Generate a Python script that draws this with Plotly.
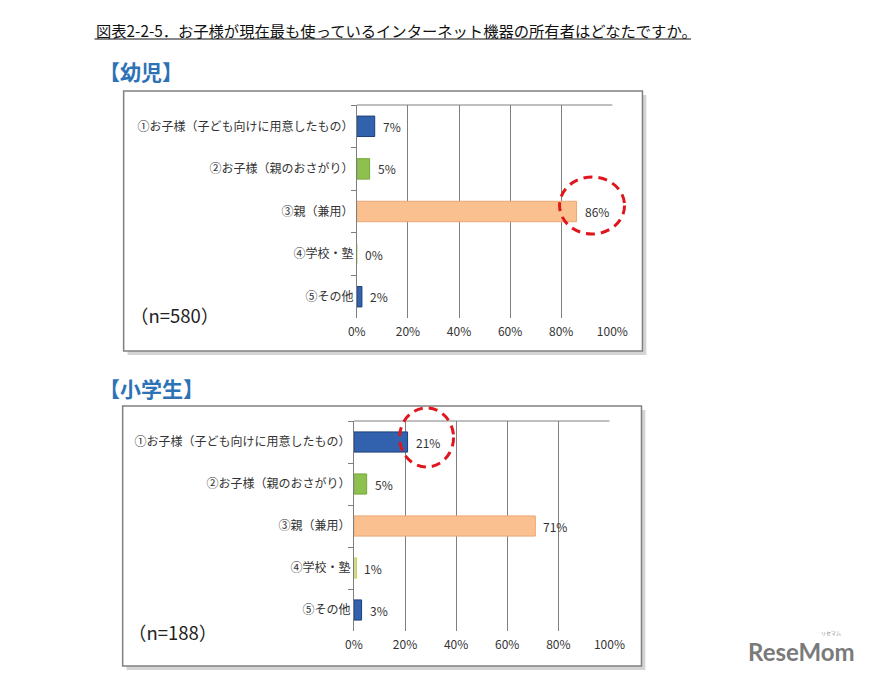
import plotly.graph_objects as go

# ---------------- data ----------------
categories = [
    "①お子様（子ども向けに用意したもの）",
    "②お子様（親のおさがり）",
    "③親（兼用）",
    "④学校・塾",
    "⑤その他",
]
infant_values = [7, 5, 86, 0, 2]
elementary_values = [21, 5, 71, 1, 3]
infant_n = "（n=580）"
elementary_n = "（n=188）"
x_tickvals = [0, 20, 40, 60, 80, 100]
x_ticktext = ["0%", "20%", "40%", "60%", "80%", "100%"]
title_text = "図表2-2-5．お子様が現在最も使っているインターネット機器の所有者はどなたですか。"
panel_titles = ["【幼児】", "【小学生】"]
highlight_index = [2, 0]  # category circled in each panel

# ---------------- style ----------------
W, H = 879, 673
FONT = "Noto Sans CJK JP, Noto Sans, sans-serif"
bar_colors = ["#3262AE", "#8EC04F", "#FAC08F", "#D6E08A", "#3262AE"]
bar_lines = ["#1E3E78", "#76A63A", "#EBA774", "#C2CE6A", "#1E3E78"]
grid_col = "#7F7F7F"
text_col = "#333333"


def px(x):
    return x / W


def py(y):
    return 1 - y / H


fig = go.Figure()

panels = [
    dict(values=infant_values, xa="x", ya="y", xdom=(358, 621), ydom=(105, 318),
         frame=(118, 91, 652, 351), title_y=71, n=infant_n, n_xy=(170, 315),
         circ=(-17, 48, -22.5, 34.5)),
    dict(values=elementary_values, xa="x2", ya="y2", xdom=(355, 618), ydom=(421, 631),
         frame=(117, 406, 651, 666), title_y=388, n=elementary_n, n_xy=(168, 632),
         circ=(-8, 46, -25, 34)),
]

shapes = []
annotations = []

for i, p in enumerate(panels):
    fig.add_trace(go.Bar(
        x=p["values"], y=categories, orientation="h",
        marker=dict(color=bar_colors, line=dict(color=bar_lines, width=1)),
        xaxis=p["xa"], yaxis=p["ya"], showlegend=False, hoverinfo="skip",
    ))
    sfx = "" if i == 0 else "2"
    layout_x = dict(
        domain=[px(p["xdom"][0]), px(p["xdom"][1])], range=[0, 100], anchor=p["ya"],
        tickvals=x_tickvals, ticktext=x_ticktext, showgrid=True, gridcolor=grid_col,
        gridwidth=1, zeroline=False, showline=False, ticks="", ticklabelstandoff=5,
        tickfont=dict(family=FONT, size=12, color=text_col), fixedrange=True,
    )
    layout_y = dict(
        domain=[py(p["ydom"][1]), py(p["ydom"][0])], anchor=p["xa"],
        autorange="reversed", type="category", showline=True, linecolor=grid_col,
        linewidth=1, ticks="outside", tickson="boundaries", ticklen=5,
        tickcolor=grid_col, showgrid=False, zeroline=False,
        tickfont=dict(family=FONT, size=12, color=text_col), fixedrange=True,
    )
    fig.update_layout(**{"xaxis" + sfx: layout_x, "yaxis" + sfx: layout_y})

    # frame with shadow
    x0, y0, x1, y1 = p["frame"]
    shapes.append(dict(type="rect", xref="paper", yref="paper", layer="below",
                       x0=px(x0 + 4), x1=px(x1 + 4), y0=py(y1 + 4), y1=py(y0 + 4),
                       fillcolor="#D4D4D4", line=dict(width=0)))
    shapes.append(dict(type="rect", xref="paper", yref="paper", layer="below",
                       x0=px(x0), x1=px(x1), y0=py(y1), y1=py(y0),
                       fillcolor="white", line=dict(color="#808080", width=1.5)))
    # top border line of plot area
    shapes.append(dict(type="line", xref=p["xa"] + " domain", yref=p["ya"] + " domain",
                       x0=0, x1=1, y0=1, y1=1, line=dict(color=grid_col, width=1)))

    # value labels
    for j, v in enumerate(p["values"]):
        annotations.append(dict(
            x=v, y=j, xref=p["xa"], yref=p["ya"], text=f"{v}%", showarrow=False,
            xanchor="left", yanchor="middle", xshift=6,
            font=dict(family=FONT, size=12, color=text_col)))

    # red dashed highlight circle (paper-anchored so it is not clipped by the plot area)
    hi = highlight_index[i]
    cx0, cx1, cy0, cy1 = p["circ"]
    dx0, dx1 = p["xdom"]
    dy0, dy1 = p["ydom"]
    anchor_x = px(dx0 + p["values"][hi] / 100 * (dx1 - dx0))
    anchor_y = py(dy0 + (hi + 0.5) * (dy1 - dy0) / len(categories))
    shapes.append(dict(type="circle", xref="paper", yref="paper",
                       xsizemode="pixel", ysizemode="pixel",
                       xanchor=anchor_x, yanchor=anchor_y,
                       x0=cx0, x1=cx1, y0=cy0, y1=cy1, layer="above",
                       line=dict(color="#E0161E", width=3, dash="9px,6px")))

    # panel title
    annotations.append(dict(
        x=px(91), y=py(p["title_y"]), xref="paper", yref="paper", text=panel_titles[i],
        showarrow=False, xanchor="left", yanchor="middle",
        font=dict(family=FONT, size=21, color="#2E72B6", weight="bold")))
    # n label
    annotations.append(dict(
        x=px(p["n_xy"][0]), y=py(p["n_xy"][1]), xref="paper", yref="paper", text=p["n"],
        showarrow=False, xanchor="center", yanchor="middle",
        font=dict(family=FONT, size=18.5, color="#222222")))

# header title (underlined)
annotations.append(dict(
    x=px(88), y=py(30), xref="paper", yref="paper", text=title_text,
    showarrow=False, xanchor="left", yanchor="middle",
    font=dict(family=FONT, size=15.3, color="#111111")))
shapes.append(dict(type="line", xref="paper", yref="paper",
                   x0=px(88), x1=px(702), y0=py(39), y1=py(39),
                   line=dict(color="#111111", width=1)))

# logo
annotations.append(dict(
    x=px(816), y=py(651), xref="paper", yref="paper", text="ReseMom",
    showarrow=False, xanchor="center", yanchor="middle",
    font=dict(family="Lato, Noto Sans, sans-serif", size=24, color="#7A7A7A", weight="bold")))
annotations.append(dict(
    x=px(846), y=py(633), xref="paper", yref="paper", text="リセマム",
    showarrow=False, xanchor="center", yanchor="middle",
    font=dict(family=FONT, size=5, color="#8A8A8A")))

fig.update_layout(
    width=W, height=H, margin=dict(l=0, r=0, t=0, b=0),
    paper_bgcolor="white", plot_bgcolor="rgba(0,0,0,0)",
    bargap=0.52, shapes=shapes, annotations=annotations, showlegend=False,
)

fig.write_html("out.html", config={"displayModeBar": False},
               post_script="document.body.style.margin='0';document.body.style.overflow='hidden';")
